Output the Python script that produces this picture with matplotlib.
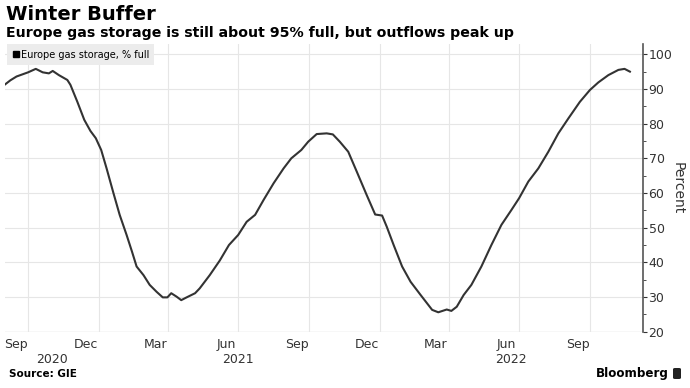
import datetime as dt
import matplotlib
matplotlib.use("Agg")
import matplotlib.pyplot as plt
import matplotlib.dates as mdates
from matplotlib import font_manager
from matplotlib.lines import Line2D
from matplotlib.ticker import MultipleLocator, NullFormatter

# pick a narrow family if one is installed
names = {f.name for f in font_manager.fontManager.ttflist}
NARROW = next((n for n in ["Liberation Sans Narrow", "DejaVu Sans Condensed"] if n in names), "DejaVu Sans")
plt.rcParams["font.family"] = ["DejaVu Sans"]

INK = "#333333"
GRID = "#e6e6e6"

# ---- data (Europe gas storage, % full) ----
dates = [
    "2020-09-01", "2020-09-08", "2020-09-16", "2020-10-01", "2020-10-11", "2020-10-20",
    "2020-10-28", "2020-11-02", "2020-11-10", "2020-11-21", "2020-11-25", "2020-12-04",
    "2020-12-13", "2020-12-21", "2020-12-28", "2021-01-04", "2021-01-11", "2021-01-20",
    "2021-01-28", "2021-02-06", "2021-02-13", "2021-02-19", "2021-02-28", "2021-03-08",
    "2021-03-17", "2021-03-25", "2021-03-31", "2021-04-05", "2021-04-12", "2021-04-18",
    "2021-04-25", "2021-05-06", "2021-05-12", "2021-05-25", "2021-06-07", "2021-06-19",
    "2021-07-01", "2021-07-12", "2021-07-23", "2021-08-03", "2021-08-16", "2021-08-29",
    "2021-09-08", "2021-09-21", "2021-09-30", "2021-10-11", "2021-10-24", "2021-11-01",
    "2021-11-10", "2021-11-21", "2021-12-02", "2021-12-15", "2021-12-26", "2022-01-04",
    "2022-01-10", "2022-01-19", "2022-01-30", "2022-02-10", "2022-02-23", "2022-03-10",
    "2022-03-18", "2022-03-29", "2022-04-04", "2022-04-11", "2022-04-20", "2022-04-30",
    "2022-05-13", "2022-05-26", "2022-06-08", "2022-06-21", "2022-07-01", "2022-07-13",
    "2022-07-26", "2022-08-08", "2022-08-21", "2022-09-03", "2022-09-18", "2022-10-01",
    "2022-10-12", "2022-10-25", "2022-11-07", "2022-11-15", "2022-11-22",
]
storage = [
    91.3, 92.5, 93.6, 94.8, 95.8, 94.8,
    94.5, 95.2, 94.0, 92.6, 91.2, 86.3,
    81.1, 77.9, 75.8, 72.4, 67.1, 59.9,
    53.7, 47.9, 43.1, 38.8, 36.3, 33.5,
    31.5, 29.9, 29.9, 31.1, 30.1, 29.1,
    29.9, 31.1, 32.5, 36.3, 40.5, 45.0,
    47.9, 51.7, 53.7, 58.0, 62.8, 67.1,
    70.0, 72.4, 74.8, 77.0, 77.2, 76.9,
    74.8, 71.9, 66.2, 59.4, 53.8, 53.5,
    50.3, 45.0, 38.8, 34.4, 30.6, 26.3,
    25.6, 26.4, 26.0, 27.2, 30.6, 33.5,
    38.8, 45.0, 50.8, 55.1, 58.5, 63.3,
    67.1, 71.9, 77.2, 81.5, 86.3, 89.7,
    91.9, 94.0, 95.5, 95.8, 95.0,
]
month_labels = ["Sep", "Dec", "Mar", "Jun", "Sep", "Dec", "Mar", "Jun", "Sep"]
month_pos = ["2020-09-15", "2020-12-15", "2021-03-15", "2021-06-15", "2021-09-15",
             "2021-12-15", "2022-03-15", "2022-06-15", "2022-09-15"]
year_labels = ["2020", "2021", "2022"]
year_pos = ["2020-11-01", "2021-07-01", "2022-06-20"]
yticks = [20, 30, 40, 50, 60, 70, 80, 90, 100]

x = [dt.datetime.strptime(d, "%Y-%m-%d") for d in dates]

fig = plt.figure(figsize=(6.9, 3.88), dpi=100)
ax = fig.add_axes([5 / 690, 56.3 / 388, 638 / 690, 287.8 / 388])

ax.plot(x, storage, color=INK, lw=1.5, solid_joinstyle="round")

ax.set_xlim(dt.datetime(2020, 9, 1), dt.datetime(2022, 12, 9))
ax.set_ylim(20, 103)

# gridlines at quarter boundaries, labels mid-month
ax.xaxis.set_major_locator(mdates.MonthLocator(bymonth=[1, 4, 7, 10]))
ax.xaxis.set_major_formatter(NullFormatter())
ax.tick_params(axis="x", length=0)
for lab, p in zip(month_labels, month_pos):
    ax.text(mdates.date2num(dt.datetime.strptime(p, "%Y-%m-%d")), -0.045, lab,
            transform=ax.get_xaxis_transform(), ha="center", va="center", fontsize=9, color=INK)
for lab, p in zip(year_labels, year_pos):
    ax.text(mdates.date2num(dt.datetime.strptime(p, "%Y-%m-%d")), -0.095, lab,
            transform=ax.get_xaxis_transform(), ha="center", va="center", fontsize=9, color=INK)

ax.yaxis.tick_right()
ax.set_yticks(yticks)
ax.yaxis.set_minor_locator(MultipleLocator(5))
ax.tick_params(axis="y", which="major", length=3, width=0.8, color=INK, labelsize=9, labelcolor=INK, pad=1)
ax.tick_params(axis="y", which="minor", length=2, width=0.6, color=INK)
ax.yaxis.set_label_position("right")
ax.set_ylabel("Percent", rotation=270, labelpad=9, fontsize=10, color=INK)

ax.grid(True, color=GRID, lw=0.8)
ax.set_axisbelow(True)
for s in ["top", "left", "bottom"]:
    ax.spines[s].set_visible(False)
ax.spines["right"].set_color("#555555")
ax.spines["right"].set_linewidth(1.2)
ax.axhline(20, color="#dddddd", lw=1.0, zorder=0)

handle = Line2D([], [], marker="s", color="black", ls="none", markersize=5)
leg = ax.legend([handle], ["Europe gas storage, % full"], loc="upper left",
                bbox_to_anchor=(0.0, 1.005), fontsize=7, frameon=True, fancybox=False,
                handletextpad=0.15, handlelength=0.7, borderpad=0.55, borderaxespad=0.2)
leg.get_frame().set_facecolor("#ececec")
leg.get_frame().set_edgecolor("none")
leg.get_frame().set_alpha(1)

fig.text(6 / 690, 1 - 15 / 388, "Winter Buffer", fontsize=14, fontweight="bold",
         family=[NARROW, "DejaVu Sans"], va="center", ha="left", color="black")
fig.text(6 / 690, 1 - 33 / 388, "Europe gas storage is still about 95% full, but outflows peak up",
         fontsize=10.2, fontweight="bold", va="center", ha="left", color="black")
fig.text(9 / 690, 1 - 374 / 388, "Source: GIE", fontsize=7.5, fontweight="bold",
         va="center", ha="left", color="black")
fig.text(669 / 690, 1 - 373 / 388, "Bloomberg", fontsize=8.6, fontweight="bold",
         family=[NARROW, "DejaVu Sans"], va="center", ha="right", color="black")
fig.patches.append(matplotlib.patches.FancyBboxPatch(
    (673 / 690, 1 - 379 / 388), 8 / 690, 11 / 388, boxstyle="round,pad=0,rounding_size=0.003",
    transform=fig.transFigure, facecolor="#222222", edgecolor="none"))

fig.savefig("out.png", dpi=100)
